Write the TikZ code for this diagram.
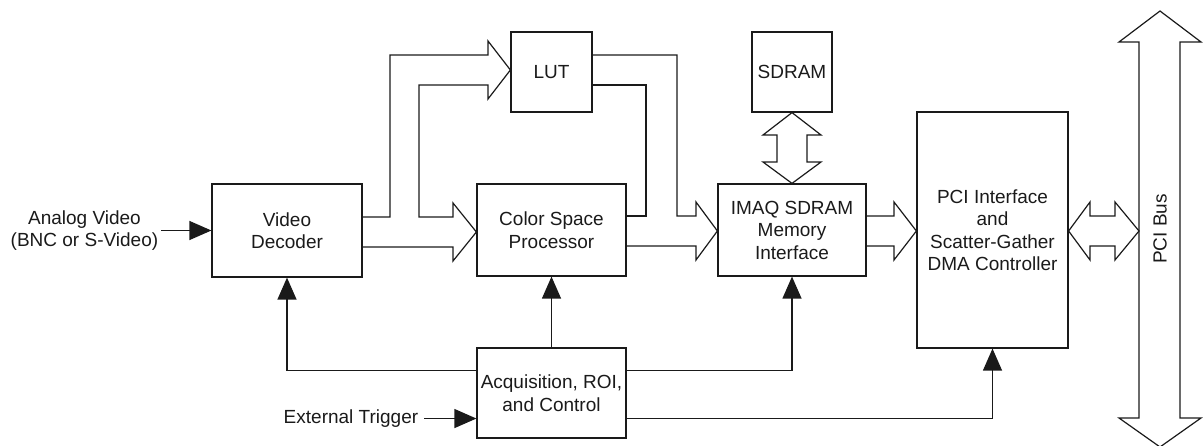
\documentclass[tikz,border=0pt]{standalone}
\usepackage{fontspec}
\setmainfont{Liberation Sans}
\usetikzlibrary{positioning,calc,arrows.meta}
\definecolor{ink}{HTML}{1A1A1A}
\tikzset{
  >=stealth,
  every node/.style={font=\fontsize{19}{22.5}\selectfont, text=ink},
  % --- nodes
  blk/.style = {draw=ink, line width=1.2pt, align=center, inner sep=0pt},
  lbl/.style = {align=center, inner sep=3pt},
  % --- edges
  sig/.style = {-{Triangle[length=22pt,width=19pt]}, line width=1.2pt, draw=ink},
  fat/.style = {draw=ink, line width=1.2pt, line join=miter},
}

\begin{document}
\begin{tikzpicture}[x=1pt,y=-1pt]
  \useasboundingbox (0,0) rectangle (1203,446);

  \node[blk, minimum width=150pt, minimum height=93pt]  (vd)    at (287,230.5) {Video\\Decoder};
  \node[blk, minimum width=149pt, minimum height=92pt]  (csp)   at (551.5,230) {Color Space\\Processor};
  \node[blk, minimum width=81pt,  minimum height=80pt]  (lut)   at (551.5,72)  {LUT};
  \node[blk, minimum width=148pt, minimum height=92pt]  (imaq)  at (792,230)   {IMAQ SDRAM\\Memory\\Interface};
  \node[blk, minimum width=80pt,  minimum height=80pt]  (sdram) at (792,72)    {SDRAM};
  \node[blk, minimum width=151pt, minimum height=236pt] (pci)   at (992.5,230) {PCI Interface\\and\\Scatter-Gather\\DMA Controller};
  \node[blk, minimum width=149pt, minimum height=90pt]  (acq)   at (551.5,393) {Acquisition, ROI,\\and Control};
  \node[rotate=90] (bus) at (1160,229) {PCI Bus};

  % inputs
  \node[lbl, left=50pt of vd] (av) {Analog Video\\(BNC or S-Video)};
  \draw[sig] (av) -- (vd);
  \coordinate (trigin) at ($(acq.north west)!.78!(acq.south west)$);
  \node[lbl, left=52pt of trigin, inner xsep=6pt] (trig) {External Trigger};
  \draw[sig] (trig) -- (trigin);

  % control lines
  \draw[sig] ($(acq.north west)!.25!(acq.south west)$) -| (vd.south);
  \draw[sig] (acq) -- (csp);
  \draw[sig] ($(acq.north east)!.25!(acq.south east)$) -| (imaq.south);
  \draw[sig] ($(acq.north east)!.78!(acq.south east)$) -| (pci.south);

  % video data paths
  \draw[fat] (vd.east |- 0,217) -- (390,217) -- (390,55) -- (488,55) -- (488,41)
     -- (lut.west |- 0,70) -- (488,99) -- (488,85) -- (419,85) -- (419,217)
     -- (453,217) -- (453,203) -- (csp.west |- 0,232) -- (453,261) -- (453,247)
     -- (vd.east |- 0,247);
  \draw[fat] (lut.east |- 0,55) -- (677,55) -- (677,216) -- (696,216) -- (696,202)
     -- (imaq.west |- 0,231) -- (696,260) -- (696,246) -- (csp.east |- 0,246);
  \draw[fat] (csp.east |- 0,216) -- (646,216) -- (646,85) -- (lut.east |- 0,85);
  \draw[fat] (imaq.east |- 0,216) -- (894,216) -- (894,202) -- (pci.west |- 0,231)
     -- (894,260) -- (894,246) -- (imaq.east |- 0,246);

  % memory and bus
  \draw[fat] (sdram.south) -- (821,135) -- (807,135) -- (807,162) -- (821,162)
     -- (imaq.north) -- (763,162) -- (777,162) -- (777,135) -- (763,135) -- cycle;
  \draw[fat] (pci.east |- 0,231) -- (1090,202) -- (1090,216) -- (1115,216) -- (1115,202)
     -- (1139,231) -- (1115,260) -- (1115,246) -- (1090,246) -- (1090,260) -- cycle;
  \draw[fat] (1160,11) -- (1201,42) -- (1180,42) -- (1180,418) -- (1201,418)
     -- (1160,447) -- (1119,418) -- (1139,418) -- (1139,42) -- (1119,42) -- cycle;
\end{tikzpicture}
\end{document}
